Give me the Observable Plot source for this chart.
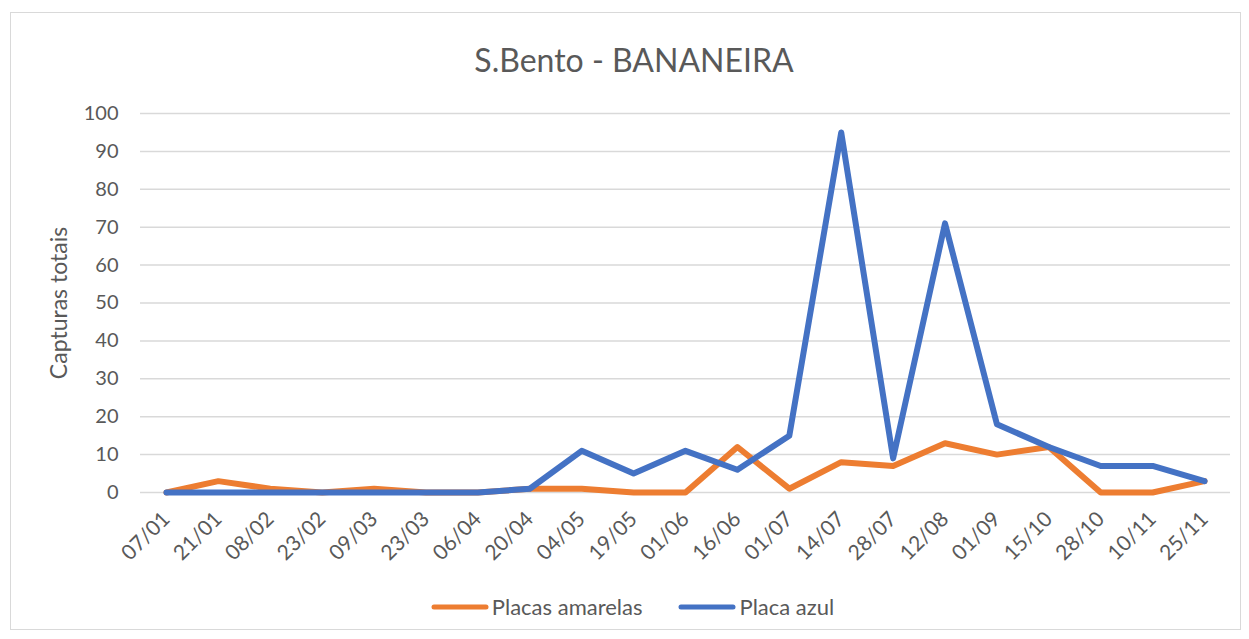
<!DOCTYPE html>
<html>
<head>
<meta charset="utf-8">
<script src="https://cdn.jsdelivr.net/npm/d3@7"></script>
<script src="https://cdn.jsdelivr.net/npm/@observablehq/plot@0.6"></script>
<style>
  html, body { margin: 0; padding: 0; background: #fff; }
  #wrap { position: relative; width: 1249px; height: 639px; font-family: Lato, "Open Sans", sans-serif; color: #595959; }
  #frame { position: absolute; left: 10px; top: 12px; width: 1231px; height: 618px; border: 1.5px solid #d9d9d9; box-sizing: border-box; }
  #title { position: absolute; left: 0; top: 38px; width: 1268px; text-align: center; font-size: 32px; line-height: 44px; }
  #ylabel { position: absolute; left: 58px; top: 303px; transform: translate(-50%, -50%) rotate(-90deg); font-size: 23px; white-space: nowrap; }
  #chart { position: absolute; left: 0; top: 95px; }
  #legend { position: absolute; left: 0; top: 592px; width: 1249px; display: flex; justify-content: center; align-items: center; font-size: 22px; line-height: 30px; padding-left: 16px; box-sizing: border-box; }
  .item { display: flex; align-items: center; margin: 0 18px; }
  .item svg { margin-right: 3px; }
</style>
</head>
<body>
<div id="wrap">
  <div id="frame"></div>
  <div id="title">S.Bento - BANANEIRA</div>
  <div id="chart"></div>
  <div id="ylabel">Capturas totais</div>
  <div id="legend"></div>
</div>
<script>
const dates = ["07/01","21/01","08/02","23/02","09/03","23/03","06/04","20/04","04/05","19/05","01/06","16/06","01/07","14/07","28/07","12/08","01/09","15/10","28/10","10/11","25/11"];
const placasAmarelas = [0,3,1,0,1,0,0,1,1,0,0,12,1,8,7,13,10,12,0,0,3];
const placaAzul = [0,0,0,0,0,0,0,1,11,5,11,6,15,95,9,71,18,12,7,7,3];
const seriesNames = ["Placas amarelas", "Placa azul"];
const seriesColors = ["#ED7D31", "#4472C4"];
const yTicks = [0,10,20,30,40,50,60,70,80,90,100];

const rows = [];
dates.forEach((d, i) => rows.push({date: d, value: placasAmarelas[i], serie: seriesNames[0]}));
dates.forEach((d, i) => rows.push({date: d, value: placaAzul[i], serie: seriesNames[1]}));

const chart = Plot.plot({
  width: 1249,
  height: 490,
  marginTop: 18,
  marginBottom: 93,
  marginLeft: 140,
  marginRight: 19,
  style: { fontFamily: "Lato, 'Open Sans', sans-serif", fontSize: "20px", color: "#595959", background: "transparent" },
  x: { type: "point", domain: dates, padding: 0.5, round: false, label: null },
  y: { domain: [0, 100], label: null },
  color: { domain: seriesNames, range: seriesColors },
  marks: [
    Plot.ruleY(yTicks, { stroke: "#d9d9d9", strokeWidth: 1.5 }),
    Plot.axisY({ ticks: yTicks, tickSize: 0, tickPadding: 22, fontSize: 20, label: null }),
    Plot.axisX({ tickSize: 0, tickPadding: 23, tickRotate: -45, fontSize: 21, label: null }),
    Plot.line(rows, { x: "date", y: "value", z: "serie", stroke: "serie", strokeWidth: 6, strokeLinejoin: "round", strokeLinecap: "round" })
  ]
});
document.getElementById("chart").appendChild(chart);

const legend = document.getElementById("legend");
seriesNames.forEach((name, i) => {
  const item = document.createElement("div");
  item.className = "item";
  item.innerHTML = `<svg width="58" height="10"><line x1="3" y1="5" x2="55" y2="5" stroke="${seriesColors[i]}" stroke-width="5" stroke-linecap="round"/></svg><span>${name}</span>`;
  legend.appendChild(item);
});
</script>
</body>
</html>
